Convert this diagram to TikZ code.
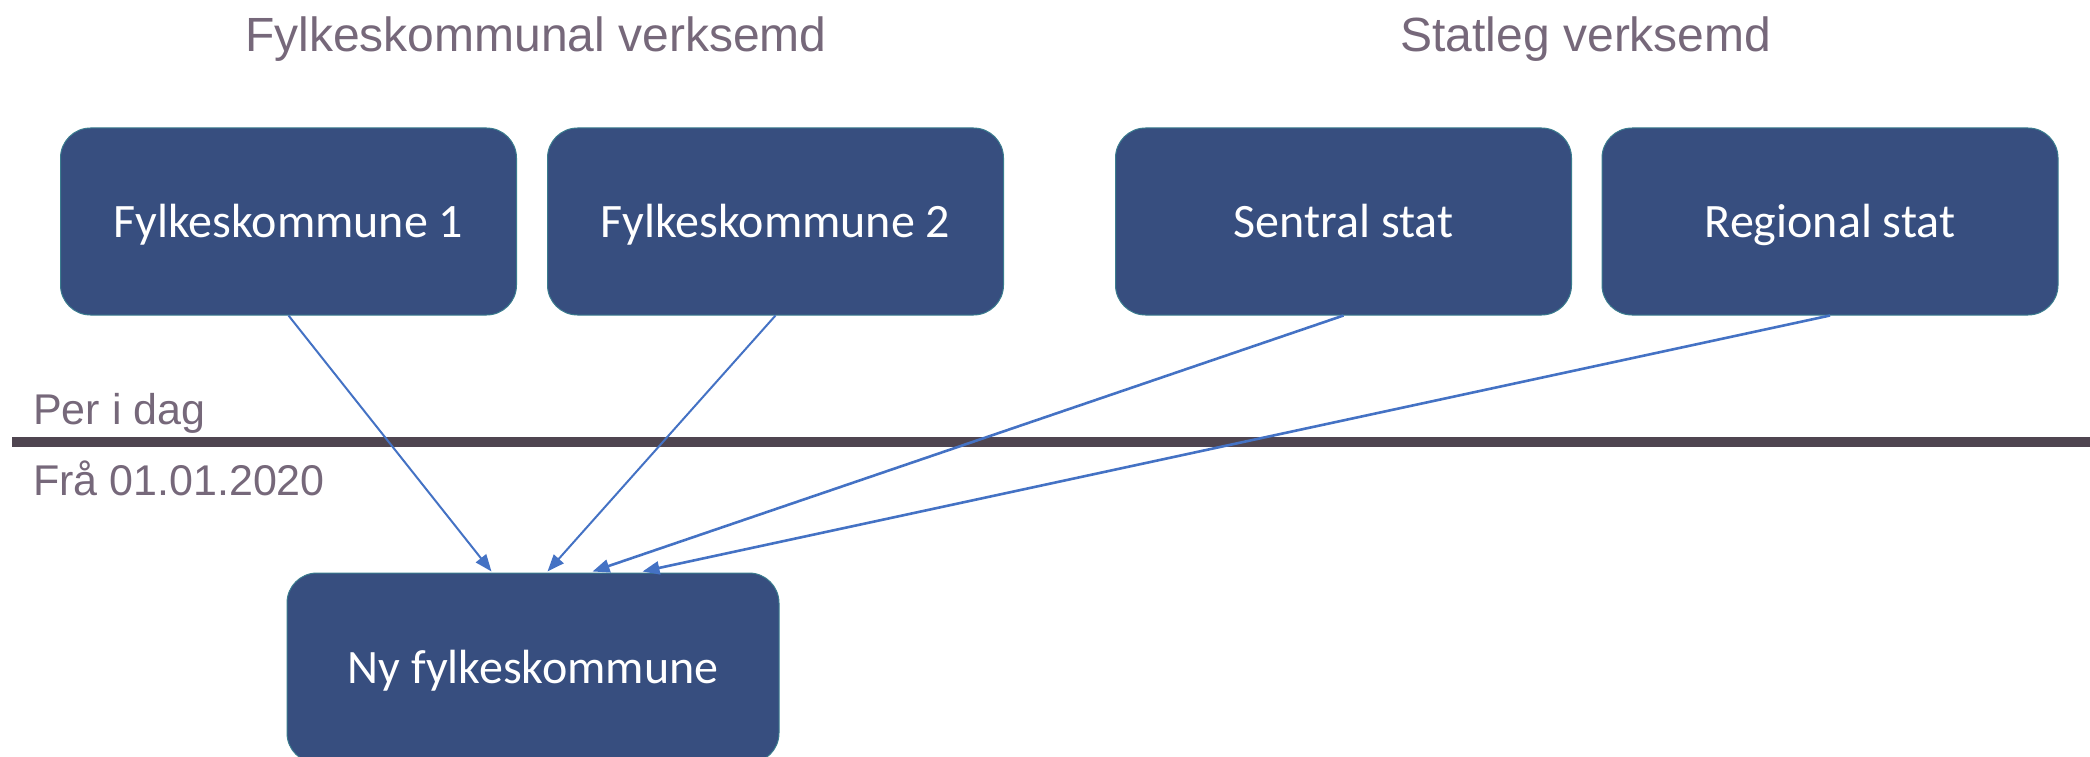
\documentclass[tikz,border=0pt]{standalone}
\usepackage{fontspec}
\setmainfont{Liberation Sans}
\newfontfamily\boxfont{Carlito}
\usetikzlibrary{arrows.meta,calc}
\definecolor{boxfill}{HTML}{374E7F}
\definecolor{boxedge}{HTML}{3A7C8E}
\definecolor{arrowc}{HTML}{4472C4}
\definecolor{linec}{HTML}{4F4550}
\definecolor{labelc}{HTML}{76687A}
\tikzset{
  unit box/.style={draw=boxedge, line width=1pt, fill=boxfill, rounded corners=30pt,
    text=white, font=\boxfont\fontsize{48}{58}\selectfont, inner sep=0pt,
    text height=31pt, text depth=0pt,
    minimum width=456pt, minimum height=187pt},
  heading/.style={text=labelc, font=\fontsize{48}{58}\selectfont, inner sep=0pt, anchor=base},
  sidelabel/.style={text=labelc, font=\fontsize{43}{52}\selectfont, inner sep=0pt, anchor=base west},
  flow/.style={draw=arrowc, line width=1.8pt, -{Triangle[length=17pt,width=13pt]}},
}
\begin{document}
\begin{tikzpicture}[x=1pt,y=-1pt]
\useasboundingbox (0,0) rectangle (2090,757);
\node[heading] (h1) at (536,52) {Fylkeskommunal verksemd};
\node[heading] (h2) at (1586,52) {Statleg verksemd};
\node[unit box] (fk1) at (288.5,221.5) {Fylkeskommune 1};
\node[unit box] (fk2) at (775.5,221.5) {Fylkeskommune 2};
\node[unit box] (ss) at (1343.5,221.5) {Sentral stat};
\node[unit box] (rs) at (1830,221.5) {Regional stat};
\node[unit box, minimum width=492pt, minimum height=190pt] (ny) at (533,668) {Ny fylkeskommune};
\coordinate (ls) at (12,442);
\coordinate (le) at (2090,442);
\draw[draw=linec, line width=10pt] (ls) -- (le);
\node[sidelabel] (pid) at (33,424) {Per i dag};
\node[sidelabel] (fra) at (33,495) {Frå 01.01.2020};
\coordinate (e1) at ($(ny.north west)+(205,-1)$);
\coordinate (e2) at ($(ny.north west)+(261,-1)$);
\coordinate (e3) at ($(ny.north west)+(306,-1)$);
\coordinate (e4) at ($(ny.north west)+(356,-1)$);
\draw[flow, line width=2pt] (fk1.south) -- (e1);
\draw[flow, line width=2pt] (fk2.south) -- (e2);
\draw[flow, line width=2.6pt] (ss.south) -- (e3);
\draw[flow, line width=2.6pt] (rs.south) -- (e4);
\end{tikzpicture}
\end{document}
